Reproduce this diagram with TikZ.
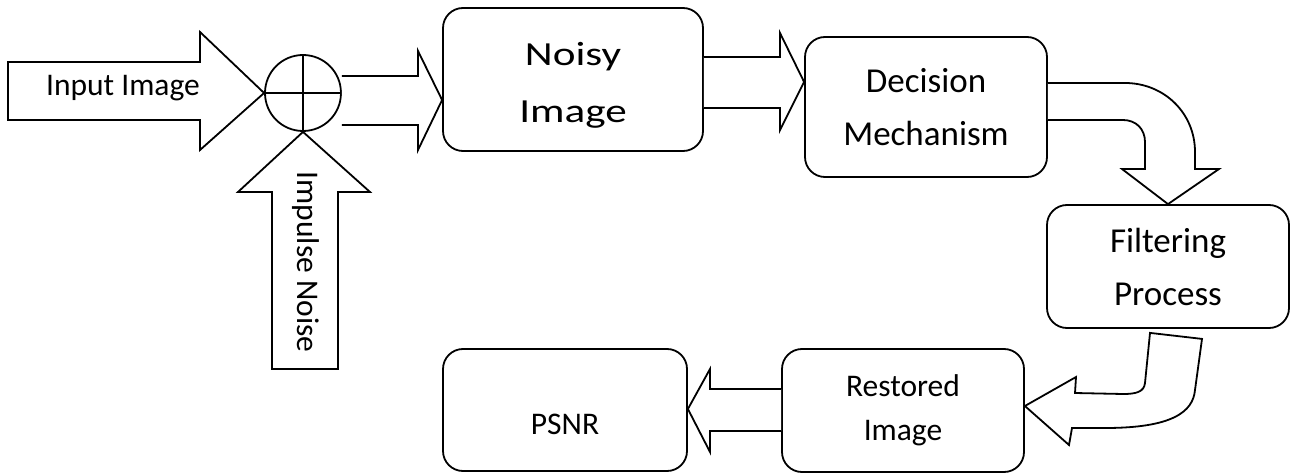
\documentclass[tikz,border=0pt]{standalone}
\usepackage{fontspec}
\setmainfont{Carlito}
\usepackage{graphicx}
\usepackage{tikz}
\usetikzlibrary{calc,positioning}

\begin{document}
\begin{tikzpicture}[
        x=1pt, y=-1pt,
        box/.style={draw, line width=1.8pt, rounded corners=20pt, align=center, inner sep=0pt},
        blk/.style={draw, line width=1.8pt, line join=miter, fill=white},
        smallfont/.style={font=\fontsize{31.5}{44}\selectfont},
        midfont/.style={font=\fontsize{35}{53}\selectfont}
    ]
    \useasboundingbox (0,0) rectangle (1293,473);

    % blocks
    \node[box, minimum width=260pt, minimum height=143pt, font=\fontsize{33.7}{57}\selectfont] (noisy) at (573,79.5)
        {\rule{0pt}{34pt}\scalebox{1.28}[1]{Noisy}\\\scalebox{1.28}[1]{Image}};
    \node[box, midfont, minimum width=242pt, minimum height=140pt] (decision) at (926,107) {Decision\\Mechanism};
    \node[box, midfont, minimum width=242pt, minimum height=123pt] (filter) at (1168,266.5) {Filtering\\Process};
    \node[box, smallfont, minimum width=242pt, minimum height=123pt] (restored) at (903,410.5) {Restored\\Image};
    \node[box, smallfont, minimum width=244pt, minimum height=122pt, text height=50pt, text depth=2pt] (psnr) at (565,410) {PSNR};

    % summing junction
    \node[circle, draw, line width=1.8pt, minimum size=76pt, inner sep=0pt] (sum) at (303,93) {};
    \draw[line width=1.8pt] (sum.north) -- (sum.south) (sum.west) -- (sum.east);

    % inputs
    \coordinate (inbase) at (8,91);
    \draw[blk] (inbase |- 0,62) -- (200,62) -- (200,32) -- (sum.west) -- (200,150) -- (200,120) -- (inbase |- 0,120) -- cycle;
    \node[smallfont] (inlbl) at (123,88) {Input Image};

    \coordinate (noisebase) at (305,369);
    \draw[blk] (272,369) -- (272,192) -- (238,192) -- (sum.south) -- (370,192) -- (338,192) -- (338,369) -- cycle;
    \node[smallfont, rotate=-90] (noiselbl) at (306,262) {Impulse Noise};

    % straight block arrows
    \draw[blk] (sum.east |- 0,76) -- (418,76) -- (418,51) -- (noisy.west |- 0,100) -- (418,150) -- (418,125) -- (sum.east |- 0,125);
    \draw[blk] (noisy.east |- 0,57) -- (780,57) -- (780,33) -- (decision.west |- 0,82) -- (780,130) -- (780,108) -- (noisy.east |- 0,108);
    \draw[blk] (restored.west |- 0,389) -- (710,389) -- (710,369) -- (psnr.east |- 0,409) -- (710,452) -- (710,431) -- (restored.west |- 0,431);

    % curved block arrows
    \draw[blk] (decision.east |- 0,83) -- (1125,83) .. controls (1164,83) and (1195,113) .. (1195,152) -- (1195,169)
        -- (1219,169) -- (filter.north) -- (1122,169) -- (1145,169) -- (1145,142)
        .. controls (1145,129) and (1136,120) .. (1123,120) -- (decision.east |- 0,120);
    \draw[blk] ($(filter.south)+(-18,4)$) -- (1145,383) .. controls (1144,392) and (1136,394) .. (1123,394) -- (1075,393)
        -- (1076,377) -- (restored.east |- 0,406) -- (1069,445) -- (1072,428) -- (1105,428)
        .. controls (1172,428) and (1193,412) .. (1195,390) -- ($(filter.south)+(34,10)$) -- cycle;
\end{tikzpicture}
\end{document}
